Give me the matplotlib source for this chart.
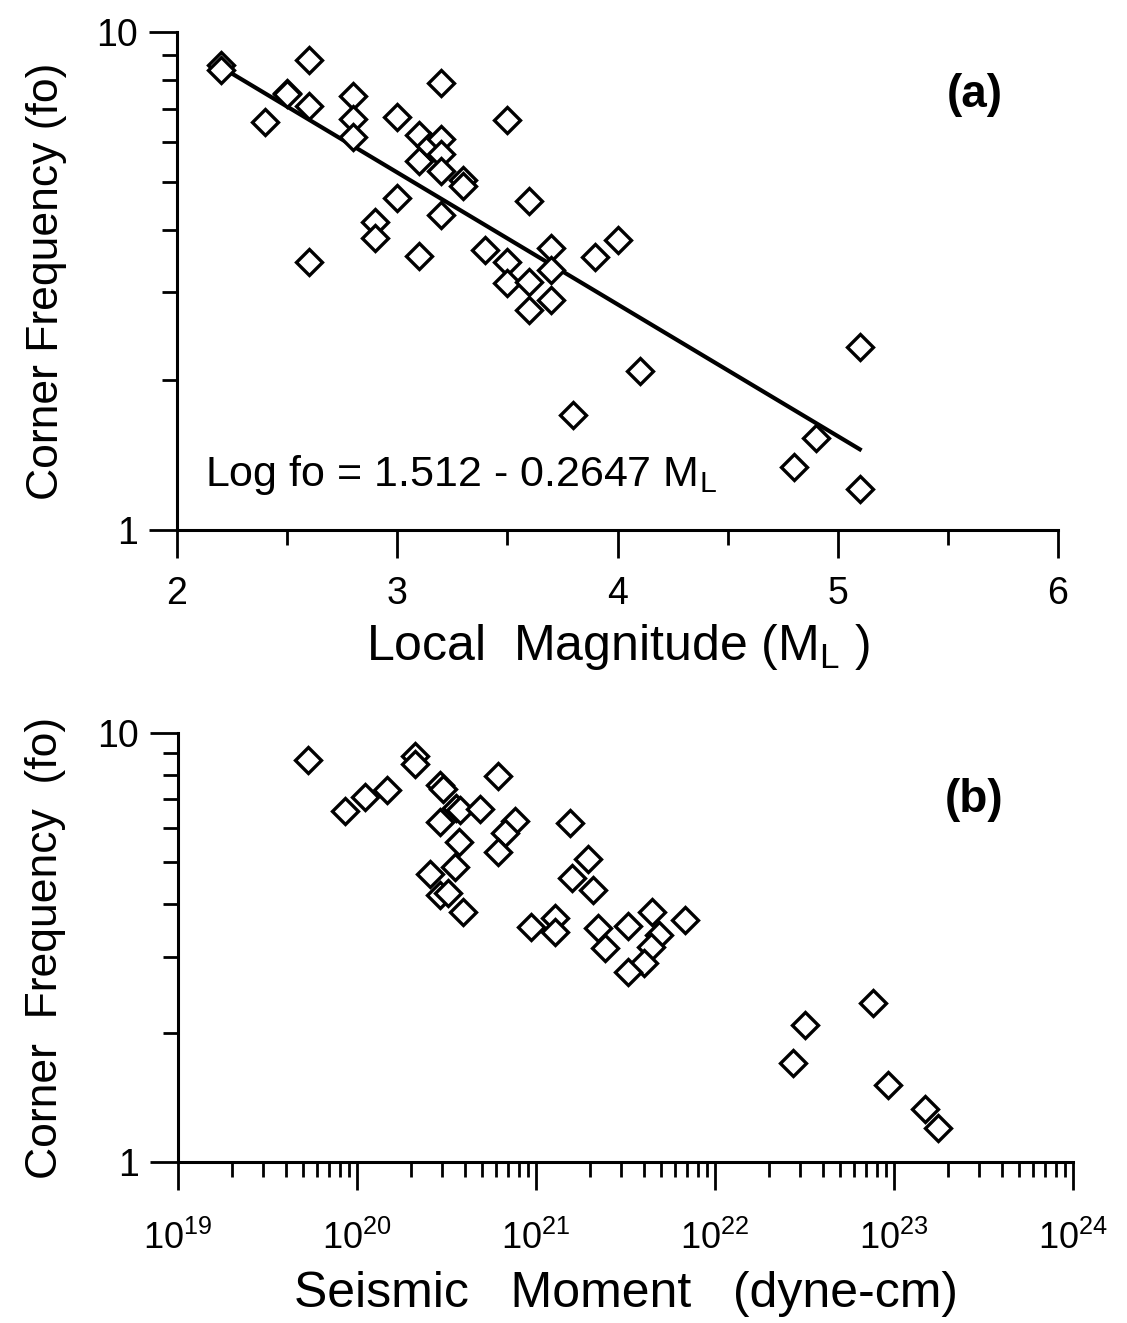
import matplotlib
matplotlib.use("Agg")
import matplotlib.pyplot as plt
import numpy as np
from matplotlib.ticker import LogLocator, NullFormatter, FixedLocator, FuncFormatter, MultipleLocator

plt.rcParams['font.family'] = ['Liberation Sans', 'DejaVu Sans']
plt.rcParams['mathtext.fontset'] = 'custom'
plt.rcParams['mathtext.rm'] = 'Liberation Sans'
plt.rcParams['mathtext.it'] = 'Liberation Sans'

# Panel (a): local magnitude vs corner frequency
ml = [2.2, 2.2, 2.4, 2.5, 2.5, 2.6, 2.6, 2.6, 2.8, 2.8, 2.8, 2.9, 2.9, 3.0, 3.0,
      3.1, 3.1, 3.1, 3.15, 3.2, 3.2, 3.2, 3.2, 3.2, 3.3, 3.3, 3.4, 3.5, 3.5, 3.5,
      3.6, 3.6, 3.6, 3.7, 3.7, 3.7, 3.8, 3.9, 4.0, 4.1, 4.8, 4.9, 5.1, 5.1]
fo_a = [8.6, 8.4, 6.6, 7.55, 7.5, 8.8, 7.1, 3.45, 7.45, 6.7, 6.15, 4.15, 3.85, 6.75, 4.65,
        6.2, 5.5, 3.55, 5.9, 7.9, 6.1, 5.7, 5.25, 4.3, 5.05, 4.9, 3.65, 6.65, 3.45, 3.13,
        4.58, 3.15, 2.77, 3.68, 3.33, 2.9, 1.70, 3.53, 3.82, 2.09, 1.34, 1.53, 2.33, 1.21]
fit_a0 = 1.512
fit_a1 = -0.2647
fit_range = [2.2, 5.1]

# Panel (b): seismic moment vs corner frequency
m0 = [5.3e19, 8.6e19, 1.11e20, 1.47e20, 2.11e20, 2.11e20, 2.91e20, 3.02e20, 3.57e20, 3.76e20,
      4.86e20, 6.14e20, 7.64e20, 6.71e20, 6.14e20, 2.91e20, 3.72e20, 3.52e20, 2.56e20, 2.91e20,
      3.22e20, 3.91e20, 1.55e21, 1.95e21, 1.59e21, 2.08e21, 9.38e20, 1.28e21, 1.28e21, 2.22e21,
      2.43e21, 3.27e21, 4.45e21, 4.87e21, 4.39e21, 4.01e21, 3.27e21, 6.8e21, 3.18e22, 2.73e22,
      7.64e22, 9.25e22, 1.49e23, 1.76e23]
fo_b = [8.65, 6.58, 7.09, 7.36, 8.85, 8.45, 7.57, 7.40, 6.69, 6.62,
        6.65, 7.94, 6.24, 5.85, 5.28, 6.2, 5.57, 4.87, 4.69, 4.19,
        4.24, 3.83, 6.17, 5.09, 4.59, 4.3, 3.53, 3.7, 3.44, 3.51,
        3.15, 3.55, 3.83, 3.38, 3.17, 2.91, 2.77, 3.66, 2.09, 1.70,
        2.35, 1.51, 1.33, 1.2]

W, H = 1127, 1323
fig = plt.figure(figsize=(W/100, H/100), dpi=100)
axA = fig.add_axes([177/W, 1-530/H, 881/W, 498/H])
axB = fig.add_axes([178/W, 1-1162/H, 895/W, 429/H])

mk = dict(marker='D', ms=13.5, mfc='white', mec='black', mew=2.4, ls='none')

axA.plot(ml, fo_a, **mk, zorder=3)
xf = np.array(fit_range)
axA.plot(xf, 10**(fit_a0 + fit_a1*xf), color='black', lw=3.0, zorder=2)
axA.set_yscale('log')
axA.set_xlim(2, 6)
axA.set_ylim(1, 10)
axA.xaxis.set_major_locator(FixedLocator([2, 3, 4, 5, 6]))
axA.xaxis.set_minor_locator(MultipleLocator(0.5))
axA.text(0.032, 0.11, 'Log fo = 1.512 - 0.2647 M$_{\\mathregular{L}}$', transform=axA.transAxes,
         fontsize=31, va='center', ha='left')
axA.text(0.906, 0.873, '(a)', transform=axA.transAxes, fontsize=33, fontweight='bold',
         ha='center', va='center')
axA.set_xlabel('Local  Magnitude (M$_{\\mathregular{L}}$ )', fontsize=36)
axA.set_ylabel('Corner Frequency (fo)', fontsize=32)

axB.plot(m0, fo_b, **mk, zorder=3)
axB.set_xscale('log')
axB.set_yscale('log')
axB.set_xlim(1e19, 1e24)
axB.set_ylim(1, 10)
axB.xaxis.set_major_locator(LogLocator(base=10, numticks=10))
axB.xaxis.set_minor_locator(LogLocator(base=10, subs=np.arange(2, 10), numticks=20))
axB.xaxis.set_minor_formatter(NullFormatter())
axB.text(0.89, 0.844, '(b)', transform=axB.transAxes, fontsize=33, fontweight='bold',
         ha='center', va='center')
axB.set_xlabel('Seismic   Moment   (dyne-cm)', fontsize=36)
axB.set_ylabel('Corner  Frequency  (fo)', fontsize=32)

for ax in (axA, axB):
    ax.spines['top'].set_visible(False)
    ax.spines['right'].set_visible(False)
    ax.spines['left'].set_linewidth(2.2)
    ax.spines['bottom'].set_linewidth(2.2)
    ax.yaxis.set_major_locator(FixedLocator([1, 10]))
    ax.yaxis.set_major_formatter(FuncFormatter(lambda v, p: '%d' % v))
    ax.yaxis.set_minor_locator(LogLocator(base=10, subs=np.arange(2, 10), numticks=20))
    ax.yaxis.set_minor_formatter(NullFormatter())
    ax.tick_params(which='major', direction='out', length=20, width=2, labelsize=27, pad=8)
    ax.tick_params(which='minor', direction='out', length=11, width=2)
    ax.yaxis.set_label_coords(-0.125, 0.5)

axA.tick_params(axis='x', which='major', pad=13)
axB.tick_params(axis='x', which='major', labelsize=26, pad=22)
axA.xaxis.set_label_coords(0.5, -0.185)
axB.xaxis.set_label_coords(0.5, -0.255)

fig.savefig('out.png', dpi=100)
